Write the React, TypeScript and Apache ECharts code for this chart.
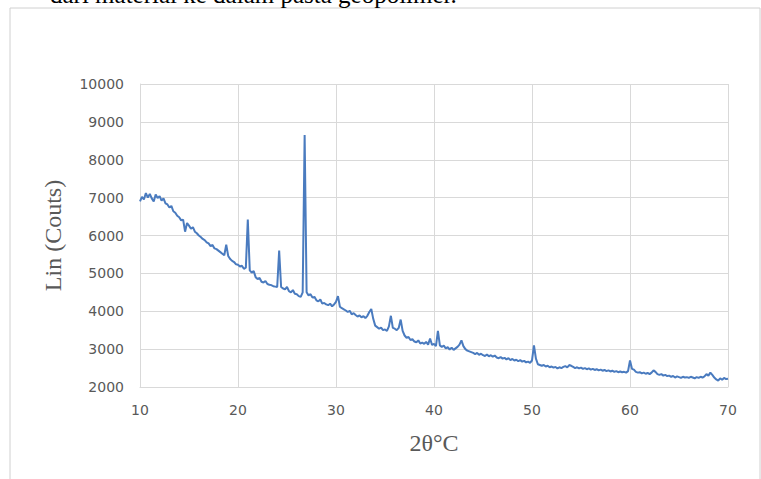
import React, { useEffect, useRef } from "react";
import * as echarts from "echarts";

// 2θ sampling: each segment starts at its first angle, 0.2° step
const angleStep = 0.2;
const segmentStarts = [10, 20, 30, 40, 50, 60];

const counts10to20 = [
  6900, 7020, 6950, 7120, 7000, 7100, 6980, 6900, 7080, 6990,
  7040, 6920, 6980, 6850, 6820, 6740, 6780, 6640, 6600, 6520,
  6480, 6400, 6420, 6100, 6330, 6260, 6180, 6220, 6100, 6060,
  6000, 5960, 5910, 5880, 5820, 5790, 5720, 5750, 5660, 5640,
  5600, 5560, 5520, 5480, 5760, 5460, 5380, 5330, 5300, 5240,
];
const counts20to30 = [
  5230, 5180, 5200, 5120, 5150, 6420, 5080, 5020, 5060, 4900,
  4850, 4880, 4780, 4760, 4800, 4720, 4700, 4690, 4660, 4650,
  4640, 5600, 4640, 4600, 4580, 4640, 4530, 4500, 4560, 4460,
  4450, 4400, 4380, 4500, 8650, 4500, 4420, 4450, 4360, 4380,
  4290, 4260, 4310, 4200, 4220, 4180, 4160, 4200, 4130, 4180,
];
const counts30to40 = [
  4250, 4400, 4120, 4080, 4050, 4020, 3980, 4010, 3920, 3950,
  3900, 3860, 3890, 3840, 3870, 3820, 3880, 3980, 4060, 3800,
  3620, 3580, 3540, 3570, 3500, 3520, 3480, 3600, 3880, 3560,
  3540, 3500, 3560, 3780, 3480, 3360, 3300, 3320, 3240, 3260,
  3200, 3180, 3230, 3150, 3170, 3140, 3190, 3120, 3280, 3110,
];
const counts40to50 = [
  3140, 3080, 3480, 3100, 3060, 3090, 3020, 3050, 2990, 3040,
  2980, 3020, 3060, 3120, 3230, 3080, 3000, 2960, 2940, 2920,
  2900, 2870, 2900, 2850, 2880, 2840, 2820, 2860, 2810, 2840,
  2800, 2830, 2780, 2760, 2790, 2750, 2770, 2730, 2760, 2710,
  2740, 2700, 2720, 2680, 2710, 2670, 2690, 2650, 2670, 2640,
];
const counts50to60 = [
  2700, 3100, 2750, 2600, 2580, 2560, 2580, 2540, 2560, 2520,
  2540, 2510, 2530, 2490, 2520, 2500, 2530, 2550, 2520, 2580,
  2560, 2530, 2500, 2520, 2490, 2510, 2480, 2500, 2470, 2490,
  2460, 2480, 2450, 2470, 2440, 2460, 2430, 2450, 2420, 2440,
  2410, 2430, 2400, 2420, 2390, 2410, 2390, 2400, 2380, 2420,
];
const counts60to70 = [
  2700, 2480, 2460, 2400, 2380, 2390, 2360, 2380, 2350, 2370,
  2340, 2380, 2440, 2400, 2340, 2320, 2340, 2300, 2320, 2290,
  2300, 2270, 2290, 2250, 2280, 2260, 2240, 2270, 2250, 2260,
  2240, 2270, 2250, 2230, 2260, 2240, 2270, 2250, 2280, 2340,
  2300, 2380, 2320, 2250, 2200, 2170, 2230, 2190, 2240, 2210, 2220,
];

const segments = [counts10to20, counts20to30, counts30to40, counts40to50, counts50to60, counts60to70];

const xTitle = "2θ°C";
const yTitle = "Lin (Couts)";
const captionText = "dari material ke dalam pasta geopolimer.";

export default function App() {
  const ref = useRef<HTMLDivElement>(null);
  useEffect(() => {
    if (!ref.current) return;
    const chart = echarts.init(ref.current, null, { renderer: "svg" });
    const data: [number, number][] = [];
    segments.forEach((seg, s) => {
      seg.forEach((v, i) => {
        data.push([+(segmentStarts[s] + i * angleStep).toFixed(1), v]);
      });
    });
    const labelStyle = { color: "#595959", fontFamily: "DejaVu Sans", fontSize: 14 };
    const nameStyle = { color: "#595959", fontFamily: "Liberation Serif", fontSize: 24 };
    chart.setOption({
      animation: false,
      backgroundColor: "#ffffff",
      grid: { left: 140, right: 33, top: 84, bottom: 92, containLabel: false },
      graphic: [
        {
          type: "rect",
          shape: { x: 10, y: 8, width: 750, height: 500 },
          style: { fill: "none", stroke: "#d0d0d0", lineWidth: 1 },
          silent: true,
        },
        {
          type: "text",
          x: 50,
          y: 7,
          style: {
            text: captionText,
            fill: "#000000",
            font: "25px 'Liberation Serif'",
            verticalAlign: "bottom",
          },
        },
      ],
      xAxis: {
        type: "value",
        min: 10,
        max: 70,
        interval: 10,
        name: xTitle,
        nameLocation: "middle",
        nameGap: 44,
        nameTextStyle: nameStyle,
        axisLine: { show: true, lineStyle: { color: "#d9d9d9" } },
        axisTick: { show: false },
        axisLabel: { ...labelStyle, margin: 16, formatter: (v: number) => String(v) },
        splitLine: { show: true, lineStyle: { color: "#d9d9d9" } },
      },
      yAxis: {
        type: "value",
        min: 2000,
        max: 10000,
        interval: 1000,
        name: yTitle,
        nameLocation: "middle",
        nameGap: 75,
        nameTextStyle: nameStyle,
        axisLine: { show: true, lineStyle: { color: "#d9d9d9" } },
        axisTick: { show: false },
        axisLabel: { ...labelStyle, margin: 16, formatter: (v: number) => String(v) },
        splitLine: { show: true, lineStyle: { color: "#d9d9d9" } },
      },
      series: [
        {
          type: "line",
          data,
          showSymbol: false,
          lineStyle: { color: "#4a7bbf", width: 2 },
        },
      ],
    });
    return () => chart.dispose();
  }, []);
  return (
    <div
      ref={ref}
      style={{ position: "fixed", left: 0, top: 0, width: 761, height: 479 }}
    />
  );
}
